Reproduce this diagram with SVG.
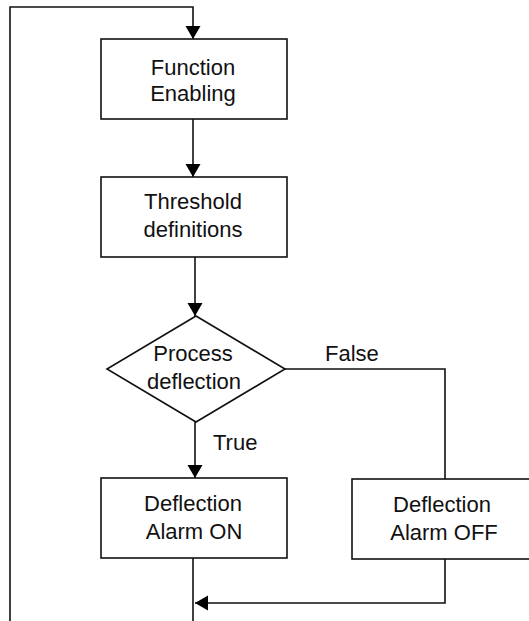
<svg xmlns="http://www.w3.org/2000/svg" width="529" height="621" viewBox="0 0 529 621">
<style>
  .box { fill: #fff; stroke: #111; stroke-width: 1.6; }
  .lbl { font-family: "Liberation Sans", Arial, sans-serif; font-size: 22px; fill: #111; text-anchor: middle; }
  .edge { font-family: "Liberation Sans", Arial, sans-serif; font-size: 22px; fill: #111; }
  .ln { fill: none; stroke: #111; stroke-width: 1.6; }
</style>
<defs>
  <marker id="arr" markerUnits="userSpaceOnUse" markerWidth="14" markerHeight="16" refX="13" refY="7.5" orient="auto">
    <path d="M0,0 L13,7.5 L0,15 z" fill="#000"/>
  </marker>
</defs>
<rect width="529" height="621" fill="#fff"/>
<g id="connectors">
  <path class="ln" d="M10,621 V7 H193 V39" marker-end="url(#arr)"/>
  <path class="ln" d="M193,119 V177" marker-end="url(#arr)"/>
  <path class="ln" d="M195,257 V316" stroke-width="2.2" marker-end="url(#arr)"/>
  <path class="ln" d="M195,421 V478" marker-end="url(#arr)"/>
  <path class="ln" d="M285,369 H445 V479"/>
  <path class="ln" d="M193,558 V621"/>
  <path class="ln" d="M445,559 V603 H195" marker-end="url(#arr)"/>
  <text class="edge" x="325" y="361">False</text>
  <text class="edge" x="213" y="450">True</text>
</g>
<g id="function-enabling">
  <rect class="box" x="101" y="39" width="186" height="80"/>
  <text class="lbl" x="193" y="75">Function</text>
  <text class="lbl" x="193" y="101">Enabling</text>
</g>
<g id="threshold-definitions">
  <rect class="box" x="101" y="177" width="186" height="80"/>
  <text class="lbl" x="193" y="209">Threshold</text>
  <text class="lbl" x="193" y="237">definitions</text>
</g>
<g id="process-deflection">
  <polygon class="box" points="196,316 285,369 196,422 107,369"/>
  <text class="lbl" x="193" y="361">Process</text>
  <text class="lbl" x="194" y="389">deflection</text>
</g>
<g id="alarm-on">
  <rect class="box" x="101" y="478" width="186" height="80"/>
  <text class="lbl" x="193" y="511">Deflection</text>
  <text class="lbl" x="194" y="539">Alarm ON</text>
</g>
<g id="alarm-off">
  <rect class="box" x="352" y="479" width="186" height="80"/>
  <text class="lbl" x="442" y="512">Deflection</text>
  <text class="lbl" x="444" y="540">Alarm OFF</text>
</g>
</svg>
